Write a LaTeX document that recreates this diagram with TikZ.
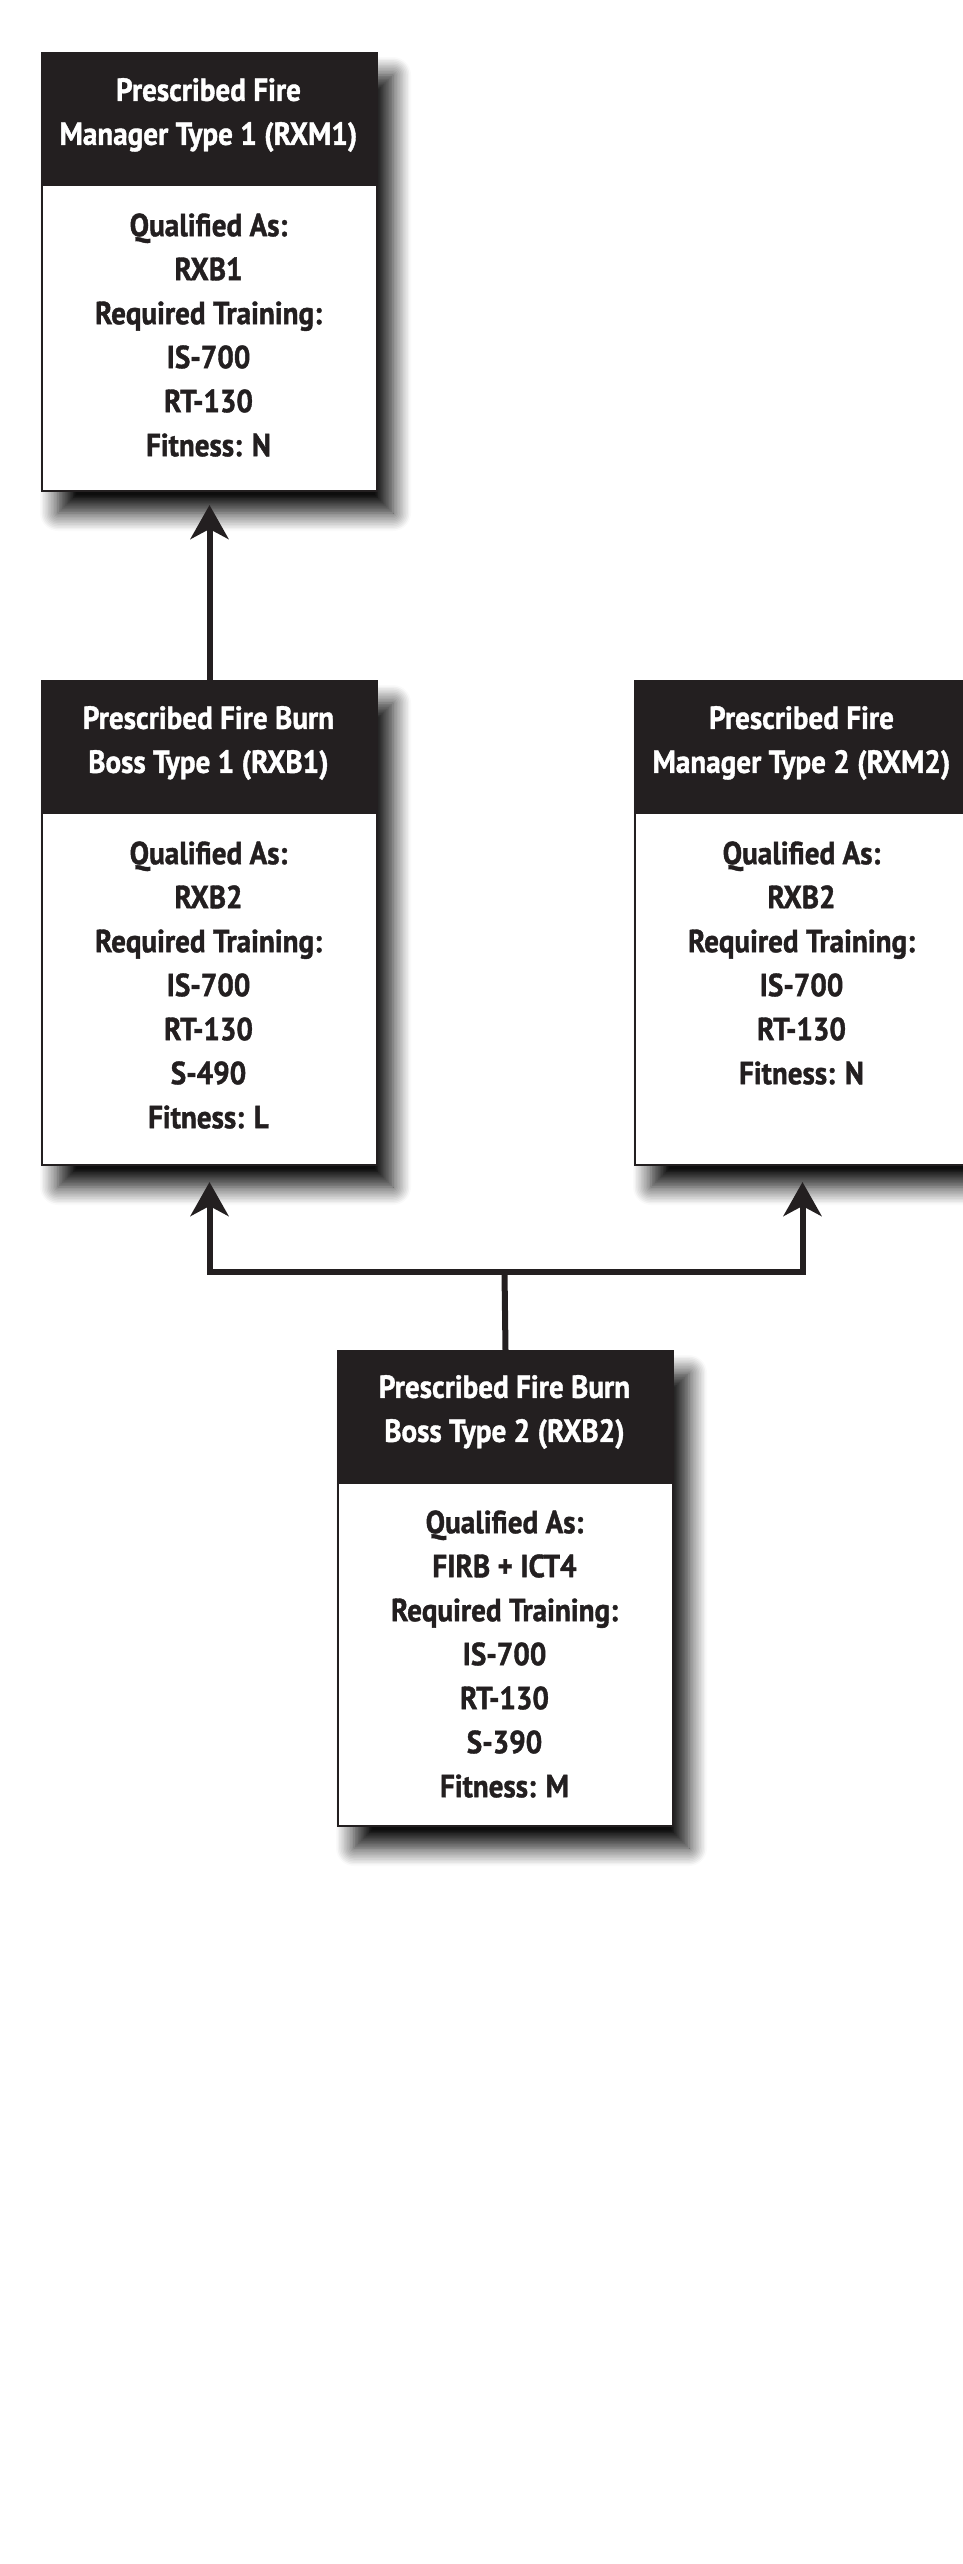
\documentclass[tikz,border=0pt]{standalone}
\usepackage{fontspec}
\setmainfont{PT Sans}[BoldFeatures={FakeStretch=0.91,FakeBold=1.2}]
\usetikzlibrary{shadows.blur,arrows.meta}
\definecolor{dark}{HTML}{231F20}
\tikzset{
  card/.style={draw=dark, line width=2pt, fill=white, minimum width=335pt, anchor=north west, inner sep=0pt,
    blur shadow={shadow xshift=16pt, shadow yshift=-22pt, shadow blur radius=18pt, shadow blur steps=12, shadow opacity=95}},
  cardhead/.style={fill=dark, minimum width=335pt, anchor=north west, inner sep=0pt},
  headtext/.style={text=white, align=center, inner sep=0pt, font={\fontsize{32}{44}\selectfont\bfseries}},
  bodytext/.style={text=dark, align=center, inner sep=0pt, font={\fontsize{32}{44}\selectfont\bfseries}},
  wire/.style={draw=dark, line width=6pt},
  conn/.style={wire, -{Stealth[length=34pt,width=38pt,inset=10pt]}}
}
\begin{document}
\begin{tikzpicture}[x=1pt,y=-1pt]
\useasboundingbox (0,0) rectangle (963,2564);
\clip (0,0) rectangle (963,2564);

% RXM1
\node[card, minimum height=438pt] (rxm1) at (41,52) {};
\node[cardhead, minimum height=134pt] (rxm1h) at (rxm1.north west) {};
\node[headtext] (rxm1t) at (208.5,115) {Prescribed Fire\\Manager Type 1 (RXM1)};
\node[bodytext] (rxm1b) at (208.5,335) {Qualified As:\\RXB1\\Required Training:\\IS-700\\RT-130\\Fitness: N};

% RXB1
\node[card, minimum height=484pt] (rxb1) at (41,680) {};
\node[cardhead, minimum height=134pt] (rxb1h) at (rxb1.north west) {};
\node[headtext] (rxb1t) at (208.5,743) {Prescribed Fire Burn\\Boss Type 1 (RXB1)};
\node[bodytext] (rxb1b) at (208.5,985) {Qualified As:\\RXB2\\Required Training:\\IS-700\\RT-130\\S-490\\Fitness: L};

% RXM2
\node[card, minimum height=484pt] (rxm2) at (634,680) {};
\node[cardhead, minimum height=134pt] (rxm2h) at (rxm2.north west) {};
\node[headtext] (rxm2t) at (801.5,743) {Prescribed Fire\\Manager Type 2 (RXM2)};
\node[bodytext] (rxm2b) at (801.5,963) {Qualified As:\\RXB2\\Required Training:\\IS-700\\RT-130\\Fitness: N};

% RXB2
\node[card, minimum height=475pt] (rxb2) at (337,1350) {};
\node[cardhead, minimum height=134pt] (rxb2h) at (rxb2.north west) {};
\node[headtext] (rxb2t) at (504.5,1412) {Prescribed Fire Burn\\Boss Type 2 (RXB2)};
\node[bodytext] (rxb2b) at (504.5,1654) {Qualified As:\\FIRB + ICT4\\Required Training:\\IS-700\\RT-130\\S-390\\Fitness: M};

% connectors
\draw[conn] (rxb1.north) -- ([yshift=-13pt]rxm1.south);
\coordinate (junc) at (504.5,1272);
\draw[wire] (rxb2.north) -- (junc);
\draw[conn] (junc) -| ([yshift=-16pt]rxb1.south);
\draw[conn] (junc) -| ([yshift=-16pt]rxm2.south);
\end{tikzpicture}
\end{document}
